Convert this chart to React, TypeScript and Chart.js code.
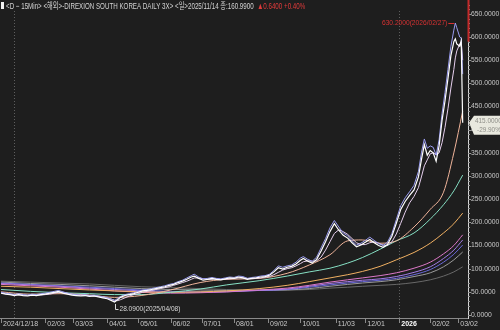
import { useEffect, useRef } from "react";
import { Chart, registerables } from "chart.js";

Chart.register(...registerables);

const FONT = "'Liberation Sans', 'Noto Sans CJK KR', sans-serif";
const BG = "#1e1e1e";

// x axis: trading-day index
const tickIdx = [0, 30, 49, 72, 93, 115, 136, 158, 181, 203, 227, 247, 270, 291, 310];
const tickLabels = ["2024/12/18", "02/03", "03/03", "04/01", "05/01", "06/02", "07/01", "08/01", "09/02", "10/01", "11/03", "12/01", "2026", "02/02", "03/02"];
const yearLineIdx = [9, 270];
const yTicks = [0, 50, 100, 150, 200, 250, 300, 350, 400, 450, 500, 550, 600, 650];

const headerMain = "<D − 15Min> <해외>-DIREXION SOUTH KOREA DAILY 3X> <일>2025/11/14 종:160.9900";
const headerChange = "▲0.6400 +0.40%";

const peakIdx = 308;
const peakVal = 630.2;
const peakLabel = "630.2000(2026/02/27)";
const lowIdx = 77;
const lowVal = 28.09;
const lowLabel = "28.0900(2025/04/08)";

// price series
const priceIdx = [
  0, 3, 6, 9, 12, 15, 18, 21, 24, 27,
  30, 33, 36, 39, 42, 45, 48, 51, 54, 57,
  60, 63, 66, 69, 72, 75, 77, 79, 81, 84,
  87, 90, 93, 96, 99, 102, 105, 108, 111, 114,
  117, 120, 123, 126, 129, 131, 134, 137, 140, 143,
  146, 149, 152, 155, 158, 161, 164, 167, 170, 173,
  176, 179, 182, 185, 188, 191, 194, 197, 200, 203,
  205, 208, 211, 214, 217, 220, 223, 226, 229, 232,
  235, 238, 241, 244, 247, 250, 253, 256, 259, 262,
  265, 268, 271, 274, 277, 280, 283, 285, 287, 289,
  291, 293, 295, 297, 299, 301, 303, 305, 307, 308,
  309, 311, 312, 313,
];
const closeVals = [
  47, 45, 44, 42, 44, 42, 41, 43, 42, 44,
  45, 47, 49, 51, 47, 45, 43, 42, 41, 42,
  40, 41, 39, 37, 35, 31, 28.09, 33, 38, 42,
  44, 46, 49, 52, 53, 55, 57, 59, 61, 64,
  66, 70, 73, 77, 82, 84, 79, 75, 77, 79,
  77, 76, 78, 80, 79, 82, 80, 77, 79, 80,
  82, 83, 86, 93, 102, 99, 103, 105, 110, 118,
  122, 116, 112, 120, 138, 158, 180, 197, 183, 172,
  166, 156, 147, 151, 157, 163, 156, 150, 146, 152,
  170, 198, 228, 245, 258, 270, 298, 335, 368, 345,
  355, 350, 332, 365, 420, 462, 510, 560, 590, 596,
  585, 580, 592, 415,
];
const highVals = [
  49, 47, 46, 44, 46, 44, 43, 45, 44, 46,
  47, 49, 51, 53, 50, 47, 45, 44, 43, 44,
  42, 43, 41, 39, 37, 34, 31, 36, 40, 44,
  46, 48, 51, 54, 55, 57, 59, 61, 63, 66,
  68, 72, 75, 80, 85, 88, 82, 78, 79, 81,
  79, 78, 80, 82, 81, 84, 83, 79, 81, 82,
  84, 85, 88, 96, 106, 103, 106, 108, 114, 123,
  126, 120, 116, 125, 145, 165, 188, 204, 190, 177,
  171, 160, 151, 155, 161, 168, 161, 154, 150, 157,
  176, 206, 236, 253, 266, 280, 310, 350, 380, 360,
  365, 362, 345, 378, 435, 480, 530, 580, 615, 630.2,
  620, 600, 598, 520,
];
const ma5Vals = [
  48, 46, 45, 44, 43, 43, 42, 42, 43, 43,
  44, 45, 47, 49, 49, 47, 45, 43, 42, 42,
  41, 41, 40, 39, 37, 34, 32, 31, 33, 37,
  41, 44, 46, 49, 51, 53, 55, 57, 59, 61,
  64, 67, 70, 73, 77, 80, 80, 78, 77, 77,
  78, 77, 77, 78, 79, 80, 80, 79, 78, 79,
  80, 82, 83, 87, 92, 97, 100, 102, 106, 111,
  115, 117, 116, 117, 125, 140, 158, 176, 184, 180,
  174, 165, 156, 152, 152, 156, 158, 155, 151, 150,
  158, 175, 198, 222, 242, 256, 275, 298, 322, 335,
  348, 350, 346, 350, 372, 405, 445, 490, 530, 555,
  570, 585, 590, 550,
];

// moving averages on a coarser grid
const maIdx = [0, 20, 40, 60, 77, 95, 115, 135, 153, 175, 194, 209, 223, 235, 245, 257, 268, 280, 291, 300, 307, 313];
const ma20Vals = [50, 45, 46, 43, 38, 42, 54, 70, 77, 79, 90, 108, 130, 160, 162, 155, 160, 190, 228, 265, 350, 440];
const ma60Vals = [55, 51, 48, 46, 44, 44, 49, 56, 65, 74, 84, 93, 101, 112, 124, 142, 160, 177, 207, 238, 268, 302];
const ma120Vals = [62, 60, 57, 54, 52, 50, 49, 50, 52, 57, 64, 72, 80, 87, 94, 105, 119, 135, 155, 177, 197, 220];
const maPinkVals = [66, 63, 60, 56, 52, 49, 47, 48, 50, 54, 58, 64, 71, 76, 80, 85, 91, 101, 114, 132, 150, 173];
const maPurpleVals = [68, 65, 62, 58, 55, 52, 49, 49, 50, 53, 56, 62, 68, 72, 75, 78, 83, 92, 104, 122, 140, 162];
const maBlueVals = [69, 66, 63, 60, 57, 54, 51, 50, 51, 53, 55, 60, 65, 69, 72, 75, 79, 87, 98, 114, 131, 151];
const maGrayVals = [71, 68, 66, 63, 60, 57, 55, 54, 53, 53, 54, 57, 62, 66, 69, 72, 76, 83, 91, 104, 119, 136];
const maDarkVals = [73, 71, 69, 67, 64, 61, 59, 57, 55, 54, 54, 55, 58, 60, 62, 64, 66, 70, 76, 84, 93, 104];

const pts = (xs: number[], ys: number[]) => xs.map((x, i) => ({ x, y: ys[i] }));

function narrowText(ctx: CanvasRenderingContext2D, text: string, x: number, y: number, sx: number) {
  ctx.save();
  ctx.translate(x, y);
  ctx.scale(sx, 1);
  ctx.fillText(text, 0, 0);
  ctx.restore();
}

export default function App() {
  const ref = useRef<HTMLCanvasElement | null>(null);

  useEffect(() => {
    document.body.style.margin = "0";
    document.body.style.background = BG;
    const canvas = ref.current;
    if (!canvas) return;

    const extras = {
      id: "extras",
      beforeDraw(chart: any) {
        const { ctx, chartArea: a, scales } = chart;
        const x = scales.x;
        ctx.save();
        ctx.fillStyle = BG;
        ctx.fillRect(0, 0, chart.width, chart.height);
        ctx.strokeStyle = "#5e5e5e";
        ctx.lineWidth = 1;
        ctx.setLineDash([1, 2]);
        yearLineIdx.forEach((v) => {
          const px = Math.round(x.getPixelForValue(v)) + 0.5;
          ctx.beginPath();
          ctx.moveTo(px, 11);
          ctx.lineTo(px, a.bottom);
          ctx.stroke();
        });
        ctx.restore();
      },
      afterDraw(chart: any) {
        const { ctx, chartArea: a, scales } = chart;
        const x = scales.x;
        const y = scales.y;
        ctx.save();
        // minor ticks on the right axis
        ctx.strokeStyle = "#9a9a9a";
        ctx.lineWidth = 1;
        for (let v = 0; v <= 670; v += 10) {
          const py = Math.round(y.getPixelForValue(v)) + 0.5;
          ctx.beginPath();
          ctx.moveTo(a.right, py);
          ctx.lineTo(a.right + (v % 50 === 0 ? 3 : 2), py);
          ctx.stroke();
        }
        // red segment on the axis
        ctx.strokeStyle = "#c42a2a";
        ctx.lineWidth = 2;
        ctx.beginPath();
        ctx.moveTo(a.right + 0.5, 0);
        ctx.lineTo(a.right + 0.5, y.getPixelForValue(590));
        ctx.stroke();
        // x tick marks
        ctx.strokeStyle = "#8a8a8a";
        ctx.lineWidth = 1;
        tickIdx.forEach((v) => {
          const px = Math.round(x.getPixelForValue(v)) + 0.5;
          ctx.beginPath();
          ctx.moveTo(px, a.bottom);
          ctx.lineTo(px, a.bottom + 5);
          ctx.stroke();
        });
        // header
        ctx.fillStyle = "#f0f0f0";
        ctx.fillRect(1, 2, 3, 7);
        ctx.font = `9px ${FONT}`;
        ctx.textBaseline = "alphabetic";
        ctx.textAlign = "left";
        ctx.fillStyle = "#d2d2d2";
        const hs = 0.69;
        narrowText(ctx, headerMain, 6, 9, hs);
        const w = ctx.measureText(headerMain + "  ").width * hs;
        ctx.fillStyle = "#e03a3a";
        narrowText(ctx, headerChange, 6 + w, 9, hs);
        // peak annotation
        ctx.font = `8px ${FONT}`;
        ctx.textBaseline = "middle";
        const pkx = x.getPixelForValue(peakIdx);
        const pky = y.getPixelForValue(peakVal);
        ctx.fillStyle = "#d83232";
        ctx.textAlign = "right";
        narrowText(ctx, peakLabel, pkx - 8, pky, 0.83);
        ctx.strokeStyle = "#d83232";
        ctx.beginPath();
        ctx.moveTo(pkx - 7, Math.round(pky) + 0.5);
        ctx.lineTo(pkx - 1, Math.round(pky) + 0.5);
        ctx.stroke();
        // low annotation
        const lwx = Math.round(x.getPixelForValue(lowIdx)) + 0.5;
        const lwy = y.getPixelForValue(lowVal);
        ctx.strokeStyle = "#d8d8d8";
        ctx.beginPath();
        ctx.moveTo(lwx, lwy + 2);
        ctx.lineTo(lwx, Math.round(lwy + 7) + 0.5);
        ctx.lineTo(lwx + 3, Math.round(lwy + 7) + 0.5);
        ctx.stroke();
        ctx.fillStyle = "#d8d8d8";
        ctx.textAlign = "left";
        narrowText(ctx, lowLabel, lwx + 4, lwy + 7, 0.82);
        // current price box
        const last = closeVals[closeVals.length - 1];
        const prev = closeVals[closeVals.length - 2];
        const bpy = y.getPixelForValue(last);
        ctx.fillStyle = "#e8e8de";
        ctx.beginPath();
        ctx.moveTo(a.right + 1, bpy);
        ctx.lineTo(a.right + 6, bpy - 7);
        ctx.lineTo(chart.width, bpy - 7);
        ctx.lineTo(chart.width, bpy + 12);
        ctx.lineTo(a.right + 6, bpy + 12);
        ctx.closePath();
        ctx.fill();
        ctx.fillStyle = "#8e8e88";
        ctx.textAlign = "left";
        narrowText(ctx, last.toFixed(4), a.right + 7, bpy - 2, 0.8);
        narrowText(ctx, ((last - prev) / prev * 100).toFixed(2) + "%", a.right + 9, bpy + 7, 0.8);
        ctx.restore();
      },
    };

    const line = (data: any, color: string, width = 1) => ({
      data,
      borderColor: color,
      borderWidth: width,
      pointRadius: 0,
      fill: false,
    });
    const smooth = (data: any, color: string) => ({
      ...line(data, color),
      cubicInterpolationMode: "monotone",
    });

    const chart = new Chart(canvas, {
      type: "line",
      data: {
        datasets: [
          line(pts(priceIdx, closeVals), "#ffffff", 1.2),
          line(pts(priceIdx, highVals), "#9a9cf0", 1),
          line(pts(priceIdx, ma5Vals), "#e6cfee", 1),
          smooth(pts(maIdx, ma20Vals), "#f0b49a"),
          smooth(pts(maIdx, ma60Vals), "#86e0c4"),
          smooth(pts(maIdx, ma120Vals), "#f0b062"),
          smooth(pts(maIdx, maPinkVals), "#dc78c8"),
          smooth(pts(maIdx, maPurpleVals), "#a47ce6"),
          smooth(pts(maIdx, maBlueVals), "#6a68d8"),
          smooth(pts(maIdx, maGrayVals), "#9a9a9a"),
          smooth(pts(maIdx, maDarkVals), "#686868"),
        ] as any,
      },
      options: {
        animation: false,
        responsive: false,
        maintainAspectRatio: false,
        layout: { padding: 0 },
        plugins: { legend: { display: false }, tooltip: { enabled: false } },
        scales: {
          x: {
            type: "linear",
            min: -0.7,
            max: 316.6,
            grid: { display: false, drawTicks: false },
            border: { display: true, color: "#8a8a8a" },
            afterBuildTicks: (s: any) => {
              s.ticks = tickIdx.map((v) => ({ value: v }));
            },
            afterFit: (s: any) => {
              s.height = 12;
              s.paddingLeft = 0;
              s.paddingRight = 0;
            },
            ticks: {
              autoSkip: false,
              maxRotation: 0,
              minRotation: 0,
              align: "start",
              padding: 2,
              labelOffset: 2,
              color: (c: any) => (c.index === 12 ? "#ffffff" : "#c8c8c8"),
              font: (c: any) => ({ family: FONT, size: 7, weight: c.index === 12 ? "bold" : "normal" }),
              callback: (_v: any, i: number) => tickLabels[i],
            },
          },
          y: {
            type: "linear",
            position: "right",
            min: -6.5,
            max: 680,
            grid: { display: false, drawTicks: false },
            border: { display: true, color: "#d6d6d6" },
            afterBuildTicks: (s: any) => {
              s.ticks = yTicks.map((v) => ({ value: v }));
            },
            afterFit: (s: any) => {
              s.width = 32;
              s.paddingTop = 0;
              s.paddingBottom = 0;
            },
            ticks: {
              padding: 3,
              color: "#c8c8c8",
              font: { family: FONT, size: 6.8 },
              callback: (v: any) => Number(v).toFixed(4),
            },
          },
        },
      } as any,
      plugins: [extras],
    });
    return () => chart.destroy();
  }, []);

  return <canvas ref={ref} width={500} height={330} style={{ display: "block" }} />;
}
